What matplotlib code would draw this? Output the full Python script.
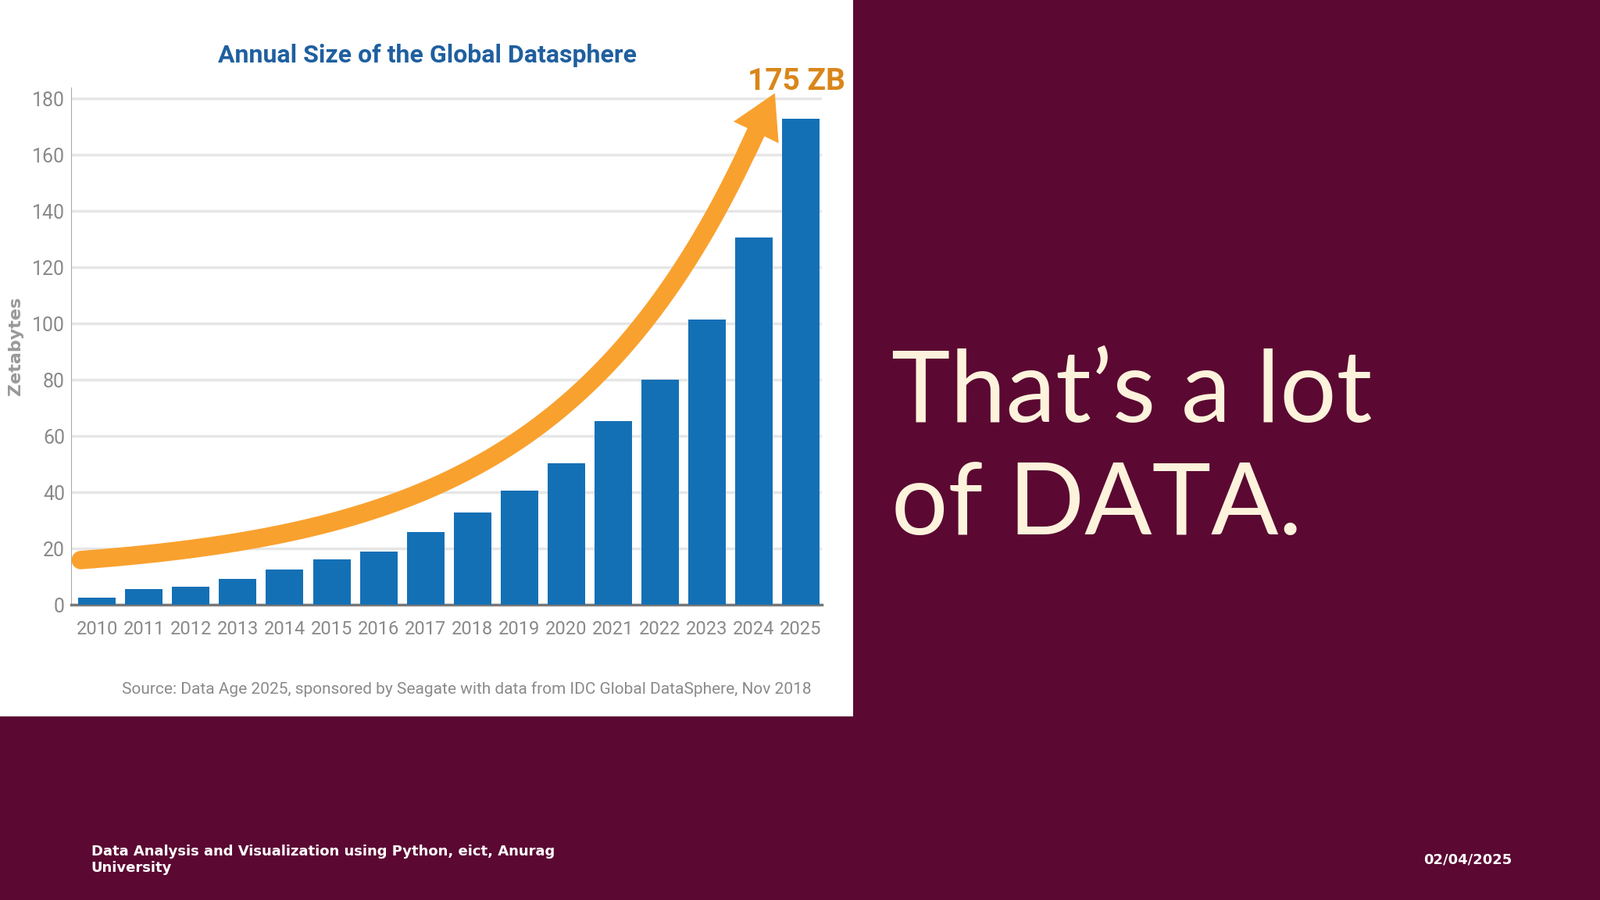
import numpy as np
import matplotlib
matplotlib.use("Agg")
import matplotlib.pyplot as plt

years = ["2010","2011","2012","2013","2014","2015","2016","2017","2018","2019","2020","2021","2022","2023","2024","2025"]
zettabytes = [2.5, 5.8, 6.5, 9.4, 12.7, 16.3, 18.9, 26, 33, 40.6, 50.4, 65.3, 80.2, 101.6, 130.6, 173]
yticks = [0, 20, 40, 60, 80, 100, 120, 140, 160, 180]

BG = "#5B0832"
fig = plt.figure(figsize=(20.48, 11.52), dpi=100)
fig.patch.set_facecolor(BG)
panel = fig.add_axes([0, 0.204, 0.533, 0.796], zorder=0)
panel.set_facecolor("white")
panel.set_xticks([]); panel.set_yticks([])
for s in panel.spines.values():
    s.set_visible(False)

narrow = ["Roboto", "DejaVu Sans"]
ax = fig.add_axes([0.0446, 0.3277, 0.469, 0.575], zorder=2)
ax.set_facecolor("white")
x = np.arange(len(years))
ax.bar(x, zettabytes, width=0.8, color="#1470B5", zorder=3)
ax.set_xlim(-0.55, 15.45)
ax.set_ylim(0, 184)
ax.set_yticks(yticks)
ax.set_xticks(x)
ax.set_xticklabels(years, fontfamily=narrow, fontsize=17, color="#8a8a8a")
ax.set_yticklabels([str(t) for t in yticks], fontfamily=narrow, fontsize=18, color="#8a8a8a")
ax.tick_params(axis="x", length=0, pad=14)
ax.tick_params(axis="y", length=0, pad=6)
ax.grid(axis="y", color="#e6e6e6", linewidth=2.5, zorder=0)
for s in ["top", "right"]:
    ax.spines[s].set_visible(False)
ax.spines["left"].set_color("#aaaaaa")
ax.spines["bottom"].set_color("#777777")
ax.spines["bottom"].set_linewidth(2.5)
ax.set_ylabel("Zetabytes", fontsize=16, color="#999999", fontweight="bold", labelpad=8)

# decorative orange growth arrow
t = np.linspace(-0.35, 14.05, 200)
k = 0.235
b = (170 - 12) / (np.exp(k * 14.2) - np.exp(k * -0.35))
c = 16 - b * np.exp(k * -0.35)
yc = c + b * np.exp(k * t)
ax.plot(t, yc, color="#F9A12E", linewidth=17, solid_capstyle="round", zorder=4, clip_on=False)
ax.annotate("", xy=(14.45, 182), xytext=(t[-4], yc[-4]),
            arrowprops=dict(facecolor="#F9A12E", edgecolor="none", width=17, headwidth=46,
                            headlength=40, shrink=0),
            zorder=5, annotation_clip=False)

fig.text(0.267, 0.938, "Annual Size of the Global Datasphere", ha="center", va="center",
         fontsize=23, fontweight="bold", color="#1F5F9F", fontfamily=narrow, zorder=5)
fig.text(0.498, 0.909, "175 ZB", ha="center", va="center", fontsize=28,
         fontweight="bold", color="#D9861A", fontfamily=narrow, zorder=5)
fig.text(0.507, 0.234, "Source: Data Age 2025, sponsored by Seagate with data from IDC Global DataSphere, Nov 2018",
         ha="right", va="center", fontsize=15, color="#8a8a8a", fontfamily=narrow, zorder=5)

fig.text(0.557, 0.5, "That\u2019s a lot\nof DATA.", ha="left", va="center", fontsize=92,
         color="#FDF3DC", fontfamily=["Lato", "DejaVu Sans"], linespacing=1.3)

fig.text(0.057, 0.045, "Data Analysis and Visualization using Python, eict, Anurag\nUniversity",
         ha="left", va="center", fontsize=13, color="white", fontweight="bold",
         fontfamily=["DejaVu Sans"], linespacing=1.2)
fig.text(0.945, 0.045, "02/04/2025", ha="right", va="center", fontsize=13, color="white",
         fontweight="bold", fontfamily=["DejaVu Sans"])

fig.savefig("out.png", dpi=100, facecolor=BG)
